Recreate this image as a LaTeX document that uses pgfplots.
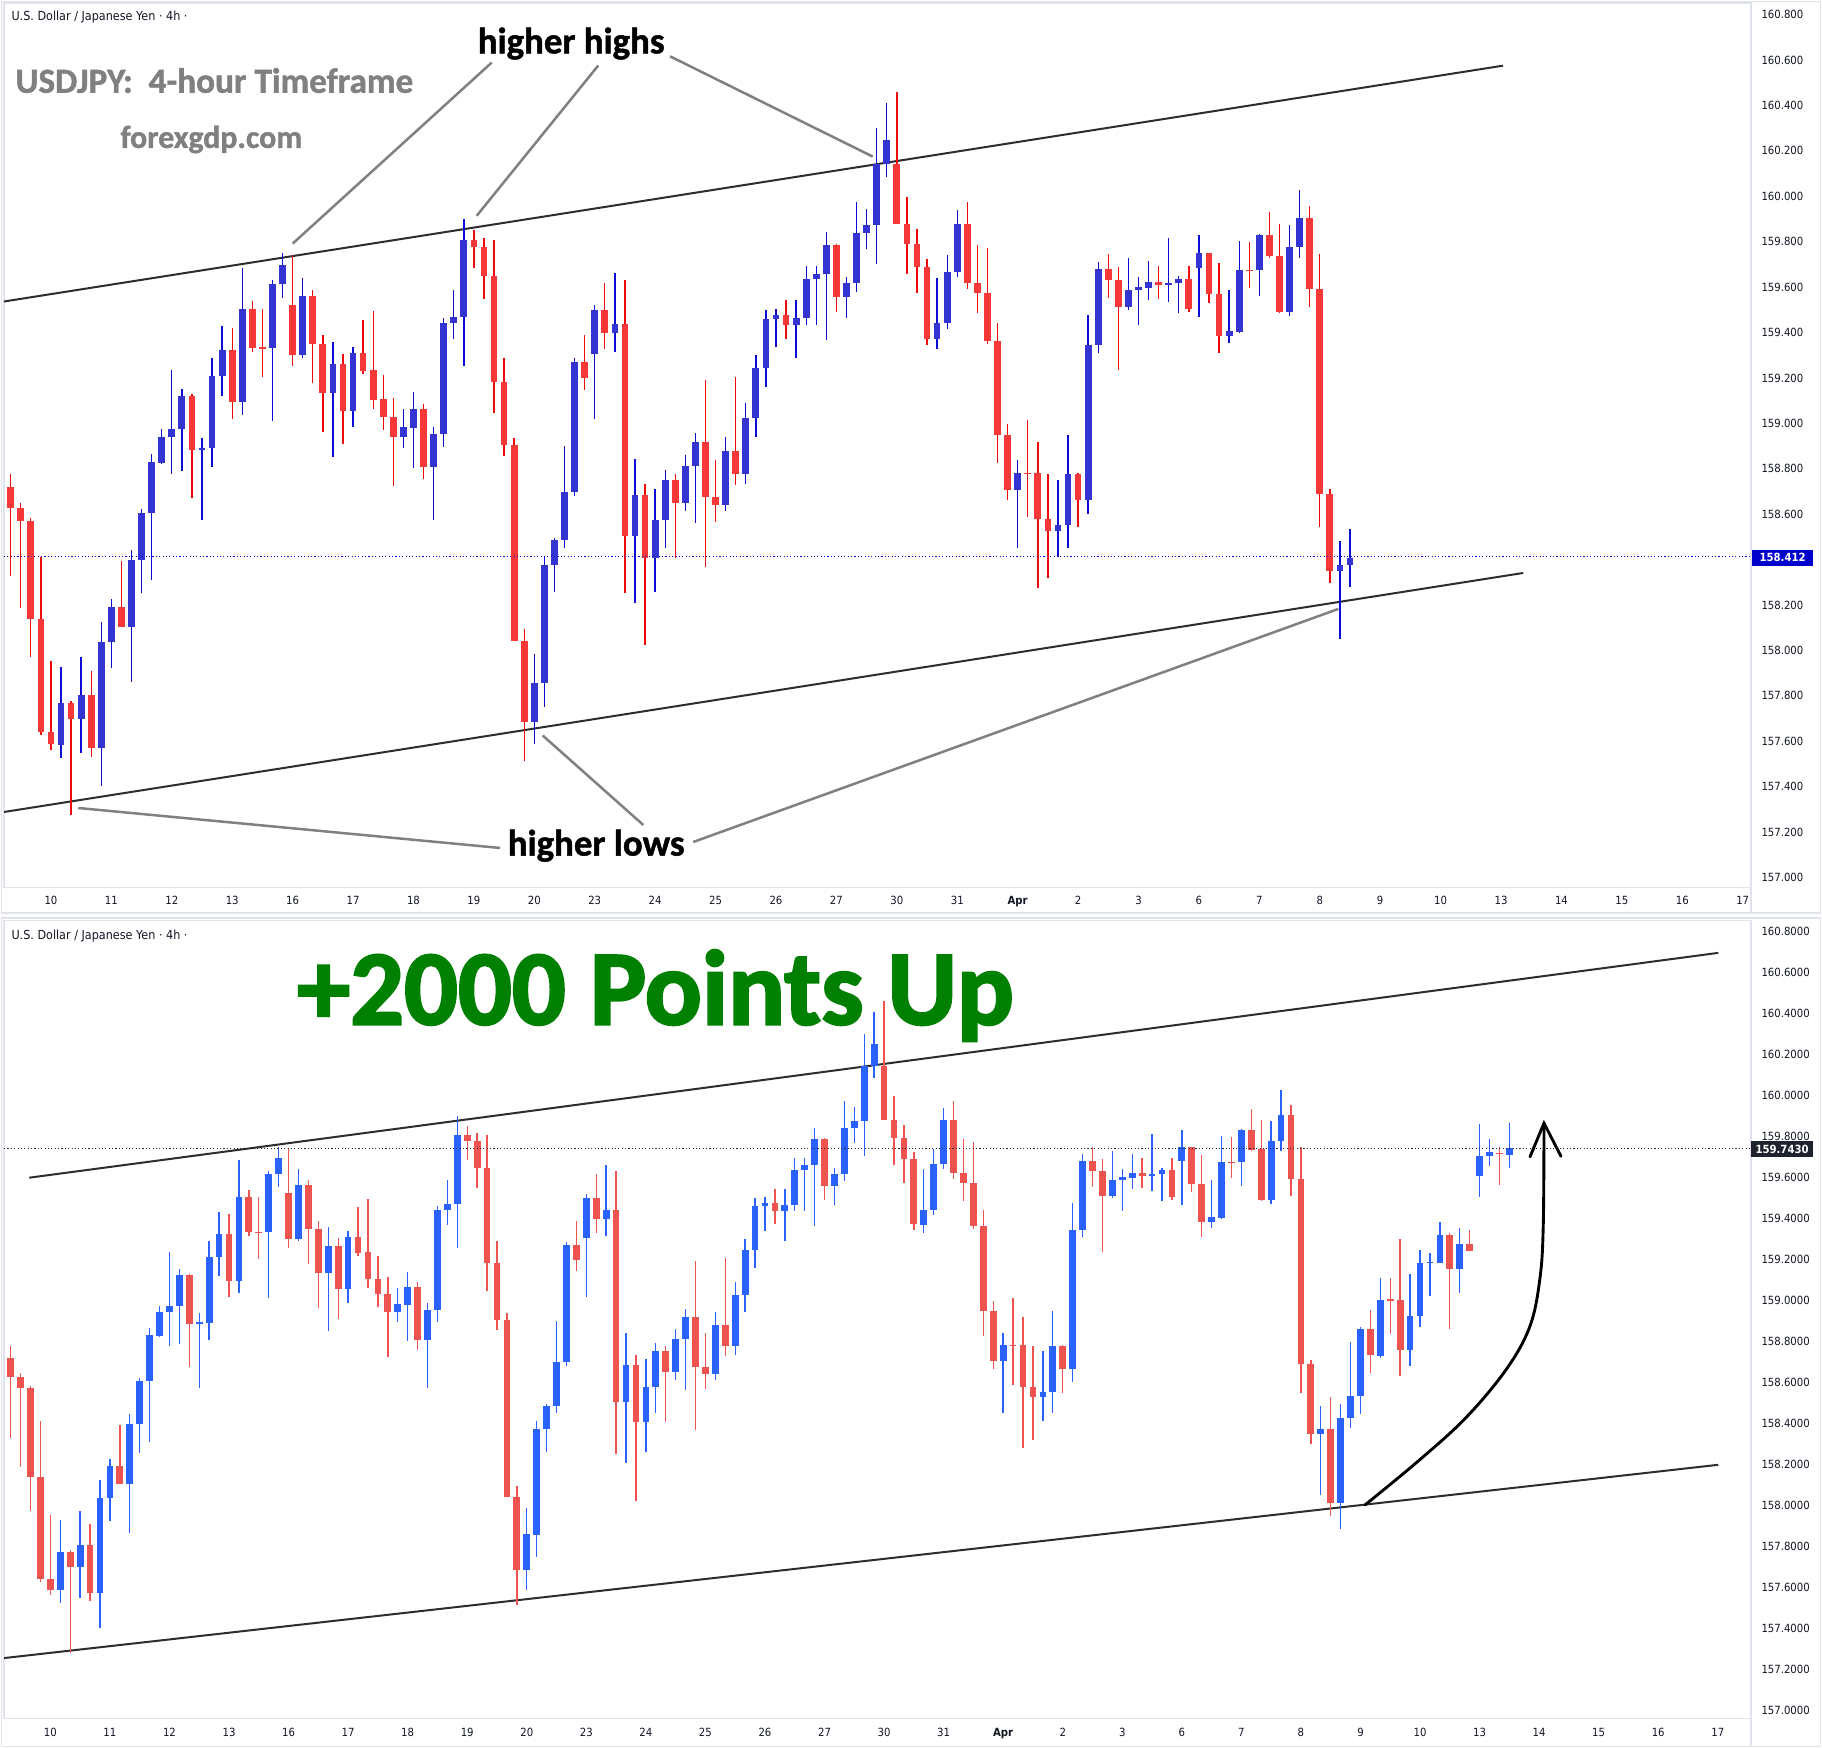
\documentclass[border=0pt]{standalone}
\usepackage{graphicx}
\usepackage{pgfplots}
\pgfplotsset{compat=1.18}
\usepackage{pgfplotstable}
\usepackage{fontspec}
\newfontfamily\tvfont[FakeStretch=0.9]{DejaVu Sans}
\newfontfamily\calib{Carlito}[BoldFeatures={FakeBold=1.2}]
\newfontfamily\calibh{Carlito}[BoldFeatures={FakeBold=2.2}]

\definecolor{sepgray}{RGB}{224,227,235}
\definecolor{tvtext}{RGB}{19,23,34}
\definecolor{tbluebody}{RGB}{52,52,210}
\definecolor{tbluewick}{RGB}{12,12,212}
\definecolor{tredbody}{RGB}{247,56,56}
\definecolor{tredwick}{RGB}{240,10,10}
\definecolor{bblue}{RGB}{41,98,255}
\definecolor{bred}{RGB}{239,83,80}
\definecolor{plblue}{RGB}{0,0,204}
\definecolor{plblack}{RGB}{30,34,45}
\definecolor{anngray}{RGB}{128,128,128}
\definecolor{trend}{RGB}{45,45,45}
\definecolor{bigreen}{RGB}{0,128,0}

% candles common to both screenshots: index, open, high, low, close
\pgfplotstableread{
i o h l c
0 158.719 158.775 158.328 158.627
1 158.627 158.647 158.188 158.571
2 158.571 158.584 157.971 158.137
3 158.137 158.413 157.626 157.641
4 157.641 157.953 157.562 157.588
5 157.585 157.927 157.524 157.769
6 157.769 157.779 157.276 157.698
7 157.698 157.973 157.549 157.805
8 157.805 157.909 157.532 157.570
9 157.570 158.124 157.401 158.035
10 158.035 158.226 157.922 158.193
11 158.193 158.392 158.101 158.101
12 158.101 158.443 157.863 158.397
13 158.397 158.622 158.254 158.607
14 158.607 158.864 158.310 158.831
15 158.826 158.974 158.821 158.941
16 158.941 159.237 158.778 158.974
17 158.974 159.153 158.788 159.122
18 159.122 159.128 158.673 158.882
19 158.882 158.936 158.573 158.893
20 158.890 159.288 158.808 159.209
21 159.209 159.429 159.120 159.324
22 159.324 159.421 159.018 159.094
23 159.094 159.684 159.036 159.505
24 159.505 159.539 159.316 159.332
25 159.334 159.503 159.204 159.329
26 159.332 159.633 159.010 159.615
27 159.615 159.748 159.551 159.697
28 159.523 159.740 159.253 159.299
29 159.299 159.641 159.288 159.562
30 159.562 159.587 159.176 159.350
31 159.350 159.388 158.962 159.133
32 159.133 159.360 158.852 159.263
33 159.263 159.304 158.911 159.053
34 159.053 159.337 158.985 159.311
35 159.311 159.457 159.217 159.230
36 159.235 159.495 159.061 159.102
37 159.105 159.214 158.969 159.030
38 159.030 159.112 158.724 158.941
39 158.941 159.061 158.893 158.982
40 158.979 159.140 158.803 159.064
41 159.064 159.087 158.755 158.808
42 158.808 158.985 158.573 158.951
43 158.951 159.462 158.895 159.442
44 159.442 159.585 159.370 159.470
45 159.470 159.899 159.253 159.807
46 159.807 159.853 159.684 159.776
47 159.776 159.817 159.546 159.648
48 159.648 159.807 159.046 159.184
49 159.184 159.288 158.857 158.905
50 158.905 158.936 158.042 158.042
51 158.042 158.093 157.511 157.685
52 157.685 157.986 157.588 157.858
53 157.856 158.413 157.749 158.374
54 158.374 158.494 158.259 158.484
55 158.484 158.898 158.451 158.699
56 158.699 159.286 158.678 159.268
57 159.268 159.388 159.145 159.199
58 159.304 159.521 159.018 159.500
59 159.500 159.618 159.329 159.396
60 159.396 159.661 159.316 159.439
61 159.439 159.633 158.252 158.504
62 158.504 158.842 158.208 158.686
63 158.686 158.732 158.022 158.407
64 158.407 158.711 158.259 158.576
65 158.576 158.793 158.451 158.752
66 158.752 158.778 158.405 158.650
67 158.650 158.859 158.612 158.813
68 158.813 158.956 158.561 158.918
69 158.918 159.191 158.369 158.676
70 158.676 158.839 158.566 158.642
71 158.642 158.941 158.612 158.880
72 158.880 159.204 158.727 158.775
73 158.775 159.089 158.732 159.025
74 159.025 159.301 158.941 159.245
75 159.245 159.500 159.158 159.460
76 159.460 159.503 159.337 159.475
77 159.475 159.541 159.370 159.434
78 159.434 159.541 159.288 159.465
79 159.465 159.694 159.434 159.636
80 159.636 159.694 159.434 159.659
81 159.659 159.843 159.365 159.786
82 159.786 159.791 159.490 159.557
83 159.557 159.646 159.465 159.618
84 159.618 159.975 159.580 159.840
85 159.840 159.945 159.766 159.873
86 159.873 160.300 159.702 160.144
87 160.144 160.409 160.085 160.249
88 160.144 160.461 159.878 159.878
89 159.878 159.996 159.659 159.791
90 159.791 159.855 159.574 159.689
91 159.689 159.725 159.345 159.370
92 159.370 159.641 159.327 159.442
93 159.442 159.740 159.414 159.666
94 159.666 159.940 159.643 159.878
95 159.878 159.975 159.592 159.620
96 159.620 159.786 159.485 159.572
97 159.572 159.774 159.350 159.362
98 159.362 159.442 158.826 158.949
99 158.949 158.995 158.663 158.706
100 158.706 158.839 158.451 158.783
101 158.783 159.013 158.586 158.778
102 158.783 158.918 158.277 158.578
103 158.578 158.775 158.318 158.527
104 158.527 158.752 158.413 158.553
105 158.553 158.949 158.451 158.775
106 158.775 158.783 158.545 158.663
107 158.663 159.477 158.601 159.345
108 159.345 159.712 159.311 159.679
109 159.679 159.746 159.551 159.631
110 159.631 159.689 159.235 159.511
111 159.511 159.728 159.498 159.587
112 159.587 159.643 159.434 159.600
113 159.597 159.715 159.541 159.623
114 159.623 159.694 159.546 159.608
115 159.608 159.814 159.534 159.618
116 159.618 159.648 159.485 159.636
117 159.636 159.694 159.490 159.503
118 159.682 159.830 159.467 159.748
119 159.748 159.748 159.528 159.569
120 159.569 159.707 159.311 159.383
121 159.383 159.587 159.352 159.408
122 159.403 159.804 159.396 159.677
123 159.677 159.797 159.595 159.671
124 159.677 159.835 159.559 159.830
125 159.830 159.932 159.728 159.735
126 159.738 159.878 159.485 159.490
127 159.490 159.873 159.472 159.776
128 159.776 160.029 159.728 159.904
129 159.904 159.955 159.511 159.592
130 159.592 159.746 158.545 158.688
131 158.688 158.709 158.298 158.349
132 158.349 158.484 158.050 158.374
}\common

% last (still forming) candle of the first screenshot
\pgfplotstableread{
i o h l c
133 158.374 158.533 158.280 158.407
}\toplast

% candles of the second screenshot after the common part
\pgfplotstableread{
i o h l c
133 158.374 158.530 157.949 158.009
134 158.009 158.496 157.884 158.423
135 158.423 158.796 158.379 158.535
136 158.535 158.869 158.444 158.858
137 158.858 158.952 158.645 158.731
138 158.728 159.109 158.718 159.002
139 159.004 159.109 158.835 158.999
140 159.002 159.299 158.632 158.757
141 158.757 159.130 158.679 158.924
142 158.921 159.244 158.869 159.184
143 159.182 159.231 159.023 159.187
144 159.182 159.380 159.182 159.317
145 159.317 159.328 158.858 159.153
146 159.153 159.351 159.038 159.273
147 159.273 159.341 159.239 159.239
148 159.609 159.859 159.505 159.703
149 159.703 159.786 159.656 159.724
150 159.721 159.750 159.562 159.713
151 159.711 159.864 159.648 159.742
}\botlast

% #1 table, #2 up wick, #3 up body, #4 down wick, #5 down body
\newcommand{\candles}[5]{%
\addplot[draw=none, mark=none, forget plot,
  error bars/.cd, y dir=both, y explicit, error mark=none,
  error bar style={line width=0.55pt, draw=#2}]
  table[x=i, y expr={\thisrow{c}>\thisrow{o} ? 0.5*(\thisrow{h}+\thisrow{l}) : nan},
        y error plus expr={0.5*(\thisrow{h}-\thisrow{l})},
        y error minus expr={0.5*(\thisrow{h}-\thisrow{l})}] {#1};
\addplot[draw=none, mark=none, forget plot,
  error bars/.cd, y dir=both, y explicit, error mark=none,
  error bar style={line width=0.55pt, draw=#4}]
  table[x=i, y expr={\thisrow{c}<\thisrow{o} ? 0.5*(\thisrow{h}+\thisrow{l}) : nan},
        y error plus expr={0.5*(\thisrow{h}-\thisrow{l})},
        y error minus expr={0.5*(\thisrow{h}-\thisrow{l})}] {#1};
\addplot[draw=none, mark=none, forget plot,
  error bars/.cd, y dir=both, y explicit, error mark=none,
  error bar style={line width=2.7pt, draw=#3}]
  table[x=i, y expr={\thisrow{c}>\thisrow{o} ? 0.5*(\thisrow{o}+\thisrow{c}) : nan},
        y error plus expr={max(0.5*abs(\thisrow{c}-\thisrow{o}),0.0023)},
        y error minus expr={max(0.5*abs(\thisrow{c}-\thisrow{o}),0.0023)}] {#1};
\addplot[draw=none, mark=none, forget plot,
  error bars/.cd, y dir=both, y explicit, error mark=none,
  error bar style={line width=2.7pt, draw=#5}]
  table[x=i, y expr={\thisrow{c}<\thisrow{o} ? 0.5*(\thisrow{o}+\thisrow{c}) : nan},
        y error plus expr={max(0.5*abs(\thisrow{c}-\thisrow{o}),0.0023)},
        y error minus expr={max(0.5*abs(\thisrow{c}-\thisrow{o}),0.0023)}] {#1};
}

\pgfplotsset{tv/.style={
  scale only axis, width=698.8pt,
  axis line style={draw=sepgray, line width=0.5pt},
  major tick length=0pt,
  xtick={4,10,...,172},
  xticklabels={10,11,12,13,16,17,18,19,20,23,24,25,26,27,30,31,\bfseries Apr,2,3,6,7,8,9,10,13,14,15,16,17},
  yticklabel pos=right,
  every tick label/.append style={font=\tvfont\fontsize{4.5}{5}\selectfont, text=tvtext},
  yticklabel style={anchor=west, inner sep=0pt, xshift=4pt},
  ytick={157,157.2,157.4,157.6,157.8,158,158.2,158.4,158.6,158.8,159,159.2,159.4,159.6,159.8,160,160.2,160.4,160.6,160.8},
}}

\begin{document}
\begin{tikzpicture}
\useasboundingbox (0,0) rectangle (728.8pt,699.2pt);
\fill[white] (0,0) rectangle (728.8pt,699.2pt);

% ---------- top panel ----------
\begin{axis}[tv, at={(1.6pt,344.2pt)}, anchor=south west, height=353.8pt,
  xmin=-0.662, xmax=172.823, ymin=156.956, ymax=160.851,
  xticklabel style={anchor=north, inner sep=0pt, yshift=-3.3pt},
  yticklabels={157.000,157.200,157.400,157.600,157.800,158.000,158.200,158.400,158.600,158.800,159.000,159.200,159.400,159.600,159.800,160.000,160.200,160.400,160.600,160.800},
]
\addplot[trend, line width=0.8pt, forget plot] coordinates {(-0.73,159.536) (148.2,160.575)};
\addplot[trend, line width=0.8pt, forget plot] coordinates {(-0.73,157.288) (150.2,158.341)};
\candles{\common}{tbluewick}{tbluebody}{tredwick}{tredbody}
\candles{\toplast}{tbluewick}{tbluebody}{tredwick}{tredbody}
\addplot[plblue, line width=0.45pt, dash pattern=on 0.45pt off 0.9pt, forget plot] coordinates {(-1,158.412) (174,158.412)};
\end{axis}

% ---------- bottom panel ----------
\begin{axis}[tv, at={(1.6pt,11.8pt)}, anchor=south west, height=319.28pt,
  xmin=-0.672, xmax=175.348, ymin=156.9585, ymax=160.855,
  xticklabel style={anchor=north, inner sep=0pt, yshift=-3.7pt},
  yticklabels={157.0000,157.2000,157.4000,157.6000,157.8000,158.0000,158.2000,158.4000,158.6000,158.8000,159.0000,159.2000,159.4000,159.6000,159.8000,160.0000,160.2000,160.4000,160.6000,160.8000},
]
\addplot[trend, line width=0.8pt, forget plot] coordinates {(1.877,159.5985) (172.05,160.696)};
\addplot[trend, line width=0.8pt, forget plot] coordinates {(-0.743,157.253) (172.05,158.197)};
\candles{\common}{bblue}{bblue}{bred}{bred}
\candles{\botlast}{bblue}{bblue}{bred}{bred}
\addplot[plblack, line width=0.45pt, dash pattern=on 0.45pt off 0.9pt, forget plot] coordinates {(-1,159.743) (176,159.743)};
\end{axis}

% ---------- annotations in image pixel units ----------
\begin{scope}[x=0.4pt, y=-0.4pt, shift={(0,699.2pt)}]
% panel frames and price-scale separators
\draw[sepgray, line width=0.5pt] (1.5,1.5) rectangle (1820.5,913);
\draw[sepgray, line width=0.5pt] (1.5,918) rectangle (1820.5,1746.5);
\draw[sepgray, line width=0.5pt] (1751,887.5) -- (1751,913);
\draw[sepgray, line width=0.5pt] (1751,1718.5) -- (1751,1746.5);

% headers
\node[anchor=base west, inner sep=0pt, text=tvtext] at (11,20.7) {\resizebox{70.4pt}{!}{\tvfont U.S. Dollar / Japanese Yen · 4h ·}};
\node[anchor=base west, inner sep=0pt, text=tvtext] at (11,940) {\resizebox{70.4pt}{!}{\tvfont U.S. Dollar / Japanese Yen · 4h ·}};

% top annotations
\node[anchor=base west, inner sep=0pt, text=anngray] at (15,92.8) {\resizebox{159.1pt}{!}{\calib\bfseries USDJPY:\ \ 4-hour Timeframe}};
\node[anchor=base west, inner sep=0pt, text=anngray] at (120,147.9) {\resizebox{72.7pt}{!}{\calib\bfseries forexgdp.com}};
\node[anchor=base west, inner sep=0pt, text=black] at (477.3,53.4) {\resizebox{74.7pt}{!}{\calib\bfseries higher highs}};
\node[anchor=base west, inner sep=0pt, text=black] at (507.3,855.6) {\resizebox{70.7pt}{!}{\calib\bfseries higher lows}};
\begin{scope}[anngray, line width=1pt]
\draw (491.7,62.6) -- (292.7,243.6);
\draw (598.3,65.5) -- (476.7,215.8);
\draw (670,56.3) -- (872.7,156.6);
\draw (78.3,808) -- (500,848);
\draw (542.7,735.5) -- (643.3,825);
\draw (693.3,842) -- (1338.3,609);
\end{scope}

% price labels
\fill[plblue] (1752.5,550) rectangle (1812.7,565.7);
\node[text=white, inner sep=0pt] at (1782.6,557.9) {\tvfont\fontsize{4.5}{5}\selectfont\bfseries 158.412};
\fill[plblack] (1751.5,1141.4) rectangle (1812.7,1156.9);
\node[text=white, inner sep=0pt] at (1782.1,1149.2) {\tvfont\fontsize{4.5}{5}\selectfont\bfseries 159.7430};

% bottom annotations
\node[anchor=base west, inner sep=0pt, text=bigreen] at (296.7,1024.4) {\resizebox{286.6pt}{!}{\calibh\bfseries +2000 Points Up}};
\draw[line width=1.15pt, line cap=round, line join=round] plot[smooth, tension=0.6] coordinates {(1365,1505) (1420,1459.6) (1466.7,1416.9) (1506.7,1368.8) (1530,1326.1) (1540,1278) (1543.3,1224.7) (1544,1123.2)};
\draw[line width=1.15pt, line cap=round, line join=miter] (1530,1156.9) -- (1544,1123.2) -- (1561,1156.3);
\end{scope}
\end{tikzpicture}
\end{document}
